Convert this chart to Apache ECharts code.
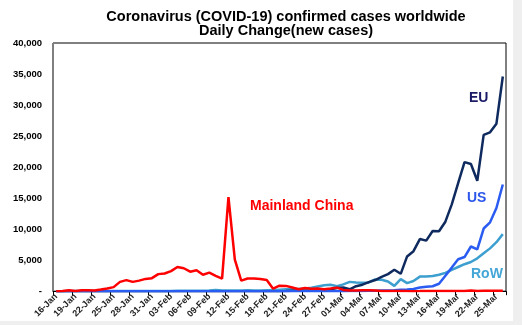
<!DOCTYPE html>
<html>
<head>
<meta charset="utf-8">
<script src="https://cdn.jsdelivr.net/npm/echarts@6/dist/echarts.min.js"></script>
<style>
html,body{margin:0;padding:0;background:#efefef;}
#c{width:513px;height:321px;background:#ffffff;}
</style>
</head>
<body>
<div id="c"></div>
<script>
var categories = [
'16-Jan','17-Jan','18-Jan','19-Jan','20-Jan','21-Jan','22-Jan','23-Jan','24-Jan','25-Jan',
'26-Jan','27-Jan','28-Jan','29-Jan','30-Jan','31-Jan','01-Feb','02-Feb','03-Feb','04-Feb',
'05-Feb','06-Feb','07-Feb','08-Feb','09-Feb','10-Feb','11-Feb','12-Feb','13-Feb','14-Feb',
'15-Feb','16-Feb','17-Feb','18-Feb','19-Feb','20-Feb','21-Feb','22-Feb','23-Feb','24-Feb',
'25-Feb','26-Feb','27-Feb','28-Feb','29-Feb','01-Mar','02-Mar','03-Mar','04-Mar','05-Mar',
'06-Mar','07-Mar','08-Mar','09-Mar','10-Mar','11-Mar','12-Mar','13-Mar','14-Mar','15-Mar',
'16-Mar','17-Mar','18-Mar','19-Mar','20-Mar','21-Mar','22-Mar','23-Mar','24-Mar','25-Mar',
'26-Mar'];

var mainlandChina = [
4,17,136,19,151,140,97,259,441,650,
1500,1780,1500,1700,1980,2102,2750,2850,3235,3887,
3694,3143,3385,2652,2984,2473,2022,15152,5090,1700,
2050,2050,1950,1800,400,890,850,600,300,500,
400,430,330,430,570,200,125,120,140,145,
100,45,40,20,25,15,8,12,20,25,
20,35,40,40,45,100,45,80,50,70,
60];

var eu = [
0,0,0,0,0,0,0,0,3,0,
1,2,1,0,2,3,1,2,1,2,
2,1,0,1,1,2,1,0,1,0,
1,0,0,0,0,1,20,70,80,70,
100,120,200,300,500,600,300,800,1050,1450,
1800,2300,2750,3450,2800,5600,6450,8400,8150,9700,
9650,11200,14000,17400,20800,20500,17800,25200,25600,27000,
34600];

var us = [
0,0,0,0,1,0,0,0,1,0,
3,0,0,0,1,1,1,0,3,0,
0,1,0,0,0,1,1,0,1,1,
0,0,0,0,0,0,1,0,0,0,
0,1,1,2,8,6,23,20,31,68,
80,100,100,150,250,270,350,600,700,800,
1200,2500,3800,5150,5500,7200,6750,10100,11100,13400,
17200];

var row = [
5,5,10,10,15,15,20,20,25,25,
30,30,35,35,40,40,45,40,45,50,
50,60,70,80,100,200,100,90,90,100,
150,100,120,150,180,250,300,350,350,420,
550,750,950,1050,800,1100,1500,1400,1350,1400,
1900,1850,1550,850,1950,1300,1650,2350,2350,2450,
2650,2950,3450,3900,4350,4700,5300,6100,6900,7900,
9200];

var yTicks = [0,5000,10000,15000,20000,25000,30000,35000,40000];

var FONT = "'Liberation Sans', Arial, sans-serif";
var chart = echarts.init(document.getElementById('c'));

function lineSeries(name, data, color){
  return {
    name: name, type: 'line', data: data, symbol: 'none', smooth: false,
    lineStyle: {color: color, width: 2.5}, itemStyle: {color: color},
    animation: false, z: 3
  };
}

chart.setOption({
  animation: false,
  textStyle: {fontFamily: FONT},
  title: {
    text: 'Coronavirus (COVID-19) confirmed cases worldwide\nDaily Change(new cases)',
    left: 281, top: 5, textAlign: 'center',
    textStyle: {fontFamily: FONT, fontSize: 14.5, fontWeight: 'bold', color: '#000', lineHeight: 14}
  },
  grid: {left: 53, top: 43, width: 453, height: 249, show: true, borderColor: '#000', borderWidth: 1, containLabel: false},
  xAxis: {
    type: 'category', data: categories, boundaryGap: true,
    axisLine: {show: true, lineStyle: {color: '#000', width: 1}},
    axisTick: {show: true, interval: 2, length: 4, lineStyle: {color: '#000'}},
    axisLabel: {interval: 2, rotate: 45, fontSize: 9, fontWeight: 'bold', color: '#222', margin: 4, fontFamily: FONT},
    splitLine: {show: false}
  },
  yAxis: {
    type: 'value', min: yTicks[0], max: yTicks[yTicks.length-1], interval: yTicks[1]-yTicks[0],
    axisLine: {show: true, lineStyle: {color: '#7f7f7f', width: 1}},
    axisTick: {show: false},
    splitLine: {show: false},
    axisLabel: {
      fontSize: 9.5, fontWeight: 'bold', color: '#000', margin: 11, fontFamily: FONT,
      formatter: function(v){ return v === 0 ? '-' : v.toLocaleString('en-US'); }
    }
  },
  series: [
    lineSeries('RoW', row, '#3d9fcf'),
    lineSeries('EU', eu, '#0f2a5e'),
    lineSeries('US', us, '#2a5cf2'),
    lineSeries('Mainland China', mainlandChina, '#ff0000')
  ],
  graphic: [
    {type: 'text', left: 250, top: 199, style: {text: 'Mainland China', fill: '#ff0000', font: 'bold 14px ' + FONT}},
    {type: 'text', left: 469, top: 91, style: {text: 'EU', fill: '#1a1a66', font: 'bold 14px ' + FONT}},
    {type: 'text', left: 467, top: 191, style: {text: 'US', fill: '#2d57ea', font: 'bold 14px ' + FONT}},
    {type: 'text', left: 471, top: 267, style: {text: 'RoW', fill: '#44a6d6', font: 'bold 14px ' + FONT}}
  ]
});
</script>
</body>
</html>
